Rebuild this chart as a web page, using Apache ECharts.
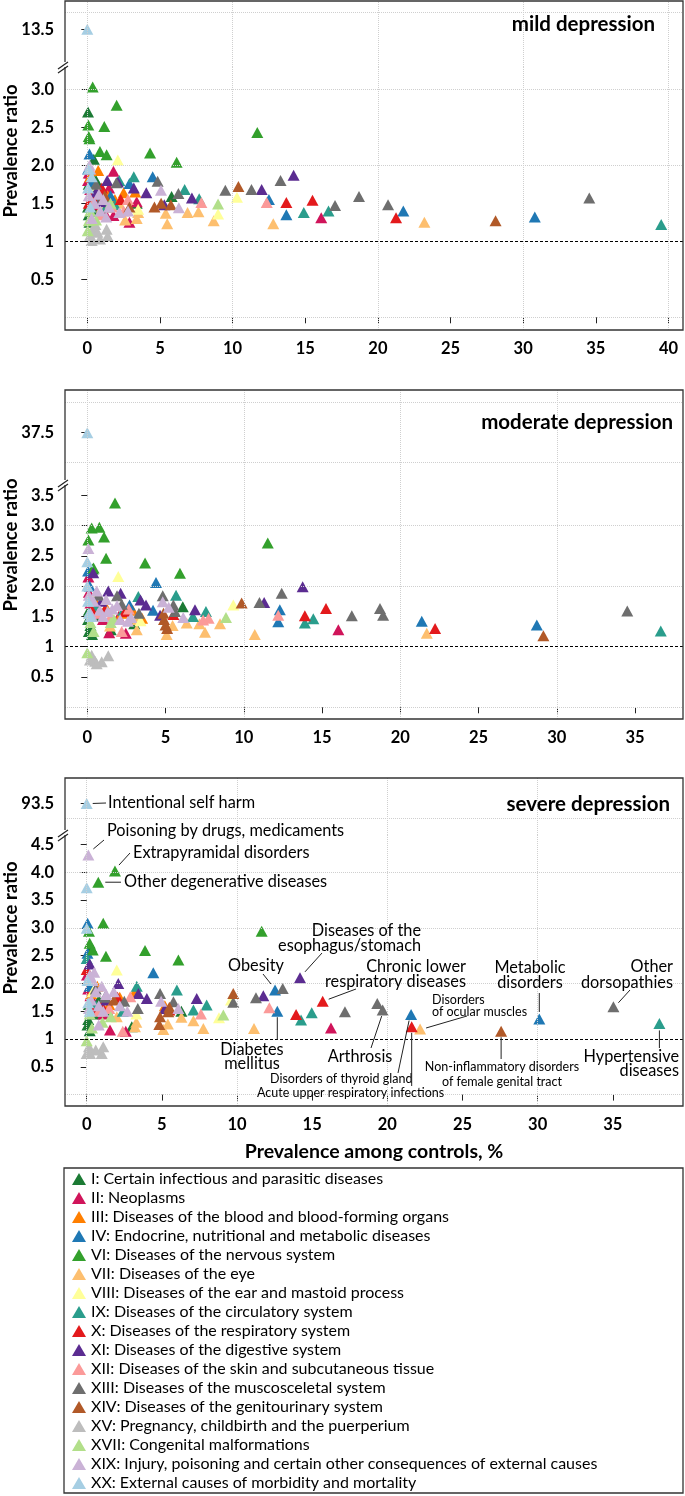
<!DOCTYPE html>
<html>
<head>
<meta charset="utf-8">
<script src="https://cdn.jsdelivr.net/npm/echarts@6.0.0/dist/echarts.min.js"></script>
<style>
  html, body { margin: 0; padding: 0; background: #fff; }
  #chart { width: 685px; height: 1496px; }
</style>
</head>
<body>
<div id="chart"></div>
<script>
// ICD-10 chapters and their colours
const classNames = [
  'I: Certain infectious and parasitic diseases',
  'II: Neoplasms',
  'III: Diseases of the blood and blood-forming organs',
  'IV: Endocrine, nutritional and metabolic diseases',
  'VI: Diseases of the nervous system',
  'VII: Diseases of the eye',
  'VIII: Diseases of the ear and mastoid process',
  'IX: Diseases of the circulatory system',
  'X: Diseases of the respiratory system',
  'XI: Diseases of the digestive system',
  'XII: Diseases of the skin and subcutaneous tissue',
  'XIII: Diseases of the muscosceletal system',
  'XIV: Diseases of the genitourinary system',
  'XV: Pregnancy, childbirth and the puerperium',
  'XVII: Congenital malformations',
  'XIX: Injury, poisoning and certain other consequences of external causes',
  'XX: External causes of morbidity and mortality'
];
const classColors = ['#1b7a34', '#d0145a', '#ff7f00', '#1f78b4', '#33a02c', '#fdbf6f', '#ffff99', '#2a9d8c',
  '#e31a1c', '#5b2c91', '#fb9a99', '#6e6e6e', '#b15928', '#bdbdbd', '#b2df8a', '#cab2d6', '#a6cee3'];

// [prevalence among controls %, prevalence ratio], one list per chapter (same order as classNames)
const mildPoints = [
  [[0.05,2.7],[0.45,2.08],[0.1,1.75],[0.25,1.62],[0.05,1.45],[0.35,1.55],[0.6,1.8],[0.1,1.35],[1.3,1.52],[0.8,1.72],[0.2,1.9],[0.5,1.4],[3.4,1.5],[5.8,1.59],[0.9,1.6],[0.15,1.25]],
  [[0.1,1.9],[0.2,1.68],[0.5,1.55],[1.0,1.62],[1.8,1.92],[1.2,1.38],[1.8,1.34],[2.9,1.25],[3.4,1.52],[16.1,1.31],[0.05,1.8],[0.7,1.48],[1.5,1.7]],
  [[0.75,1.93],[0.3,1.72],[1.4,1.6],[2.5,1.64],[3.3,1.65],[0.2,1.85],[1.9,1.55],[0.6,1.62]],
  [[0.15,2.15],[2.9,1.76],[4.5,1.85],[12.5,1.55],[13.7,1.35],[21.75,1.4],[30.8,1.32],[0.05,1.95],[1.6,1.6],[0.3,1.78]],
  [[0.37,3.03],[2.02,2.79],[0.07,2.53],[0.1,2.38],[0.15,2.35],[1.17,2.51],[0.87,2.18],[1.33,2.14],[4.32,2.16],[6.15,2.04],[11.7,2.43],[0.3,1.65]],
  [[2.6,1.28],[3.4,1.3],[5.5,1.23],[5.4,1.37],[6.9,1.38],[7.65,1.39],[8.7,1.27],[12.8,1.23],[23.2,1.25],[1.0,1.45],[3.5,1.38],[2.2,1.5]],
  [[2.1,2.07],[9.0,1.36],[10.3,1.58],[3.5,1.42],[0.5,1.7],[1.2,1.5]],
  [[3.2,1.85],[6.7,1.68],[7.7,1.56],[14.9,1.38],[16.6,1.4],[39.5,1.22],[1.9,1.48],[0.4,1.6],[2.2,1.8],[1.3,1.45]],
  [[13.7,1.51],[15.5,1.54],[21.25,1.31],[0.3,1.6],[1.0,1.7],[2.3,1.55],[0.1,1.5]],
  [[1.37,1.8],[4.06,1.64],[3.2,1.7],[7.2,1.57],[5.3,1.48],[12.0,1.68],[14.2,1.87],[2.1,1.78],[0.6,1.65],[0.9,1.52]],
  [[2.8,1.55],[7.85,1.51],[12.35,1.51],[1.7,1.45],[0.4,1.5],[2.5,1.4],[0.9,1.35]],
  [[2.0,1.77],[4.84,1.79],[6.27,1.63],[9.5,1.67],[11.3,1.68],[13.3,1.8],[17.05,1.47],[18.7,1.59],[20.7,1.48],[34.55,1.57],[1.0,1.55],[0.6,1.75]],
  [[4.62,1.45],[5.08,1.5],[5.75,1.48],[10.4,1.72],[28.1,1.27],[1.2,1.6],[2.9,1.45]],
  [[0.3,1.01],[0.4,1.14],[0.87,1.03],[1.33,1.16],[1.4,1.07],[0.55,1.22],[0.2,1.08],[0.7,1.12]],
  [[0.03,1.14],[0.1,1.27],[0.6,1.28],[9.0,1.49],[0.2,1.4],[1.6,1.5]],
  [[5.07,1.67],[6.3,1.44],[0.2,1.95],[0.5,1.5],[0.9,1.4],[1.5,1.45],[2.2,1.38],[0.1,1.6],[1.1,1.55],[2.8,1.4],[0.3,1.3],[0.8,1.62],[1.3,1.32],[0.15,2.0]],
  [[0.1,1.95],[0.2,1.45],[0.05,1.7],[0.3,1.85]]
];
const mildOutlier = [[0, 13.5]];

const moderatePoints = [
  [[0.35,2.28],[0.1,1.25],[0.3,1.2],[0.2,1.35],[6.1,1.66],[0.5,1.7],[3.0,1.38],[0.1,1.6],[0.8,1.5],[1.5,1.28],[0.05,1.45]],
  [[0.07,2.15],[1.4,1.23],[2.46,1.22],[16.04,1.28],[0.1,1.9],[0.6,1.55],[1.0,1.45],[0.2,1.72],[2.0,1.5]],
  [[0.4,1.8],[1.2,1.65],[2.2,1.55],[3.5,1.47],[0.8,1.58],[2.9,1.6]],
  [[0.15,2.0],[4.39,2.06],[2.7,1.69],[12.3,1.61],[12.2,1.41],[21.37,1.42],[28.72,1.36],[4.2,1.6],[0.05,2.25]],
  [[1.77,3.37],[0.28,2.96],[0.77,2.97],[0.07,2.76],[1.07,2.81],[1.2,2.46],[3.69,2.38],[5.92,2.21],[11.53,2.71],[0.4,2.3]],
  [[6.35,1.39],[7.16,1.38],[7.52,1.24],[8.48,1.38],[10.7,1.2],[5.07,1.2],[5.45,1.35],[3.16,1.28],[1.45,1.34],[21.69,1.22],[3.2,1.45]],
  [[1.98,2.16],[9.33,1.69],[3.4,1.43],[0.6,1.9]],
  [[3.26,1.83],[5.67,1.85],[6.75,1.5],[7.58,1.58],[13.9,1.39],[14.44,1.46],[36.64,1.26],[2.3,1.6],[0.5,1.65]],
  [[13.9,1.51],[15.25,1.63],[22.22,1.3],[5.5,1.53],[2.4,1.58],[0.3,1.6],[1.1,1.6]],
  [[0.38,2.22],[13.76,1.99],[1.34,1.92],[2.13,1.88],[6.88,1.61],[3.4,1.77],[3.75,1.69],[11.3,1.73],[4.65,1.52],[0.9,1.75]],
  [[7.75,1.47],[7.4,1.44],[12.2,1.52],[2.2,1.25],[2.65,1.62],[1.5,1.5],[0.7,1.55]],
  [[1.9,1.84],[4.82,1.84],[5.5,1.69],[11.0,1.73],[12.42,1.88],[16.9,1.51],[18.7,1.63],[18.9,1.52],[34.5,1.59],[3.3,1.55],[0.7,1.85],[2.2,1.7],[5.6,1.58]],
  [[9.86,1.72],[4.87,1.55],[4.9,1.45],[5.0,1.36],[29.14,1.18],[5.1,1.3]],
  [[0.28,0.86],[0.5,0.76],[0.92,0.75],[1.34,0.85],[0.17,0.78],[0.6,0.72]],
  [[0.0,0.9],[0.2,1.4],[1.5,1.4],[8.86,1.48],[0.4,1.25],[1.7,1.45]],
  [[0.07,2.62],[4.82,1.74],[5.2,1.65],[6.13,1.48],[0.1,1.85],[0.4,1.75],[0.8,1.6],[1.2,1.78],[1.6,1.62],[0.2,1.55],[1.0,1.5],[2.1,1.45],[2.6,1.42],[0.6,1.92],[1.3,1.58],[0.3,1.5],[1.9,1.68],[2.8,1.48]],
  [[0.0,2.4],[0.0,2.0],[0.1,1.55],[0.05,1.75],[0.2,1.5]]
];
const moderateOutlier = [[0, 37.5]];

const severePoints = [
  [[0.3,2.65],[0.05,1.25],[0.1,1.35],[0.2,1.15],[0.5,1.45],[3.0,1.22],[1.4,1.5],[0.15,1.62],[0.8,1.7],[6.3,1.5]],
  [[0.02,2.15],[1.55,1.16],[2.6,1.14],[16.25,1.2],[0.1,1.9],[0.5,1.62],[1.1,1.45],[0.25,1.78]],
  [[0.7,1.95],[2.2,1.75],[0.3,1.82],[1.5,1.62],[3.2,1.85],[5.2,1.6]],
  [[0.06,3.08],[0.05,2.54],[4.43,2.19],[12.53,1.88],[12.68,1.5],[21.58,1.44],[30.11,1.36],[0.2,1.95]],
  [[1.88,4.02],[0.77,3.82],[1.1,3.08],[0.15,2.94],[0.2,2.72],[1.28,2.49],[3.88,2.59],[6.1,2.42],[11.64,2.94],[0.4,2.6]],
  [[6.3,1.39],[7.1,1.33],[7.76,1.19],[11.13,1.19],[5.4,1.27],[5.1,1.17],[3.21,1.22],[3.3,1.3],[22.18,1.18],[2.0,1.4]],
  [[2.0,2.24],[8.8,1.38],[9.6,1.7],[3.3,1.45],[0.4,1.85]],
  [[0.0,2.45],[3.33,1.95],[6.0,1.88],[7.98,1.61],[7.1,1.52],[14.26,1.34],[14.97,1.47],[38.1,1.28],[2.4,1.5],[0.6,1.6]],
  [[0.0,2.25],[13.93,1.44],[15.7,1.68],[21.62,1.22],[2.05,1.75],[0.3,1.55],[1.0,1.6],[5.5,1.52]],
  [[0.2,2.35],[14.19,2.1],[2.1,2.0],[3.44,1.82],[4.0,1.73],[7.32,1.73],[11.75,1.78],[5.2,1.55],[1.3,1.7]],
  [[12.15,1.56],[7.6,1.45],[2.4,1.14],[2.9,1.76],[1.5,1.55],[0.8,1.5]],
  [[4.88,1.82],[5.77,1.67],[9.75,1.66],[11.26,1.74],[13.04,1.91],[17.18,1.49],[19.33,1.64],[19.69,1.52],[35.04,1.58],[3.4,1.55],[1.2,1.75],[0.6,1.9],[2.5,1.68]],
  [[9.75,1.82],[4.88,1.4],[4.83,1.26],[5.43,1.49],[5.5,1.57],[27.57,1.14],[1.8,1.7]],
  [[0.15,0.86],[0.22,0.74],[1.0,0.74],[1.1,0.86],[0.0,0.74],[0.6,0.8]],
  [[0.0,0.97],[0.35,1.2],[1.05,1.3],[9.09,1.43],[0.2,1.45],[1.6,1.4]],
  [[0.11,4.31],[4.95,1.68],[6.1,1.55],[0.2,2.15],[0.4,2.05],[0.6,1.85],[1.0,1.95],[1.3,1.8],[0.3,1.7],[0.8,1.6],[1.8,1.85],[2.2,1.6],[2.7,1.5],[0.15,1.55],[1.1,1.5],[0.5,2.2],[0.8,1.25]],
  [[0.0,3.72],[0.0,2.99],[0.1,1.65],[0.05,2.05],[0.2,1.5]]
];
const severeOutlier = [[0, 93.5]];

// tick labels
const mildXTicks = [0, 5, 10, 15, 20, 25, 30, 35, 40];
const moderateXTicks = [0, 5, 10, 15, 20, 25, 30, 35];
const severeXTicks = [0, 5, 10, 15, 20, 25, 30, 35];
const mildYTicks = [0.5, 1, 1.5, 2, 2.5, 3];
const moderateYTicks = [0.5, 1, 1.5, 2, 2.5, 3, 3.5];
const severeYTicks = [0.5, 1, 1.5, 2, 2.5, 3, 3.5, 4, 4.5];
const mildTopTicks = [13.5];
const moderateTopTicks = [37.5];
const severeTopTicks = [93.5];

// labelled diseases in the severe panel
const severeNotes = [
  { text: ['Intentional self harm'], at: [0, 93.5], top: true, from: [6, 0], to: [106, 803], tx: 108, ty: [803], align: 'left' },
  { text: ['Poisoning by drugs, medicaments'], at: [0.11, 4.31], from: [5, -6], to: [104, 840], tx: 107, ty: [831], align: 'left' },
  { text: ['Extrapyramidal disorders'], at: [1.88, 4.02], from: [4, -6], to: [130, 853], tx: 133, ty: [853], align: 'left' },
  { text: ['Other degenerative diseases'], at: [0.77, 3.82], from: [7, 0], to: [121, null], tx: 124, ty: [882], align: 'left' },
  { text: ['Diseases of the', 'esophagus/stomach'], at: [14.19, 2.1], from: [5, -6], to: [322, 953], tx: 421, ty: [931, 946], align: 'right' },
  { text: ['Obesity'], at: [12.53, 1.88], from: [-4, -6], to: [263, 974], tx: 256, ty: [966], align: 'center' },
  { text: ['Chronic lower', 'respiratory diseases'], at: [15.7, 1.68], from: [6, -2], to: [356, 989], tx: 466, ty: [967, 982], align: 'right' },
  { text: ['Diabetes', 'mellitus'], at: [12.68, 1.5], from: [0, 6], to: [null, 1040], tx: 252, ty: [1050, 1064], align: 'center' },
  { text: ['Arthrosis'], at: [19.69, 1.52], from: [-1, 6], to: [371, 1048], tx: 360, ty: [1057], align: 'center' },
  { text: ['Disorders of thyroid gland'], at: [21.58, 1.44], from: [-2, 6], to: [398, 1073], tx: 270, ty: [1079], align: 'left', small: true },
  { text: ['Acute upper respiratory infections'], at: [21.62, 1.22], from: [0, 6], to: [null, 1086], tx: 257, ty: [1093], align: 'left', small: true },
  { text: ['Disorders', 'of ocular muscles'], at: [22.18, 1.18], from: [6, -1], to: [467, 1016], tx: 432, ty: [1000, 1012], align: 'left', small: true },
  { text: ['Non-inflammatory disorders', 'of female genital tract'], at: [27.57, 1.14], from: [0, 6], to: [null, 1059], tx: 502, ty: [1067, 1082], align: 'center', small: true },
  { text: ['Metabolic', 'disorders'], at: [30.11, 1.36], from: [0, -7], to: [null, 993], tx: 530, ty: [968, 983], align: 'center' },
  { text: ['Other', 'dorsopathies'], at: [35.04, 1.58], from: [5, -4], to: [630, 990], tx: 673, ty: [967, 983], align: 'right' },
  { text: ['Hypertensive', 'diseases'], at: [38.1, 1.28], from: [0, 7], to: [null, 1048], tx: 679, ty: [1057, 1071], align: 'right' }
];

const FONT = 'Lato, "Open Sans", sans-serif';

// page layout of the three panels (box = left, top, right, bottom; brk = y of the axis break)
const panels = [
  { title: 'mild depression', pts: mildPoints, out: mildOutlier, xTicks: mildXTicks, yTicks: mildYTicks, topTicks: mildTopTicks,
    box: [65, 1, 683, 330], brk: 67, x: [-1.535, 41.0], y: [-0.167, 3.293], yTop: [12.364, 14.352],
    xGrid: [0, 10, 20, 30, 40], yGrid: [0, 2, 3], topGrid: [14], titleAt: [655, 24], nameY: 151 },
  { title: 'moderate depression', pts: moderatePoints, out: moderateOutlier, xTicks: moderateXTicks, yTicks: moderateYTicks, topTicks: moderateTopTicks,
    box: [65, 390, 683, 719], brk: 485, x: [-1.425, 38.06], y: [-0.193, 3.668], yTop: [36.628, 38.212],
    xGrid: [0, 10, 20, 30], yGrid: [0, 2, 3], topGrid: [37, 38], titleAt: [673, 422], nameY: 545 },
  { title: 'severe depression', pts: severePoints, out: severeOutlier, xTicks: severeXTicks, yTicks: severeYTicks, topTicks: severeTopTicks,
    box: [65, 778, 683, 1106], brk: 835, x: [-1.444, 39.67], y: [-0.205, 4.669], yTop: [92.399, 94.389],
    xGrid: [0, 10, 20, 30], yGrid: [0, 2, 3, 4], topGrid: [93], titleAt: [670, 804], nameY: 928 }
];

const labelStyle = { color: '#000', fontFamily: FONT, fontWeight: 'bold', fontSize: 16.5 };
const tickStyle = { show: true, length: 6, lineStyle: { color: '#222', width: 1 } };
const dotted = { color: '#cfcfcf', type: 'dotted', width: 1 };

const chart = echarts.init(document.getElementById('chart'));
const grids = [], xAxes = [], yAxes = [], series = [];

panels.forEach((p, i) => {
  const [L, T, R, B] = p.box;
  const gTop = 2 * i, gMain = 2 * i + 1;
  grids.push({ left: L, top: T, width: R - L, height: p.brk - T, outerBoundsMode: 'none' });
  grids.push({ left: L, top: p.brk, width: R - L, height: B - p.brk, outerBoundsMode: 'none' });

  xAxes.push({ gridIndex: gTop, type: 'value', min: p.x[0], max: p.x[1], show: false });
  xAxes.push({
    gridIndex: gMain, type: 'value', min: p.x[0], max: p.x[1],
    axisLine: { show: false }, splitLine: { show: false },
    axisTick: Object.assign({ customValues: p.xTicks }, tickStyle),
    axisLabel: Object.assign({ customValues: p.xTicks, margin: 10 }, labelStyle),
    name: i === 2 ? 'Prevalence among controls, %' : '',
    nameLocation: 'middle', nameGap: 36,
    nameTextStyle: { color: '#000', fontFamily: FONT, fontWeight: 'bold', fontSize: 19.5 }
  });
  yAxes.push({
    gridIndex: gTop, type: 'value', min: p.yTop[0], max: p.yTop[1],
    axisLine: { show: false }, splitLine: { show: false },
    axisTick: Object.assign({ customValues: p.topTicks }, tickStyle),
    axisLabel: Object.assign({ customValues: p.topTicks, margin: 11, formatter: v => v.toFixed(1) }, labelStyle)
  });
  yAxes.push({
    gridIndex: gMain, type: 'value', min: p.y[0], max: p.y[1],
    axisLine: { show: false }, splitLine: { show: false },
    axisTick: Object.assign({ customValues: p.yTicks }, tickStyle),
    axisLabel: Object.assign({ customValues: p.yTicks, margin: 11, formatter: v => (v === 1 ? '1' : v.toFixed(1)) }, labelStyle)
  });

  // dotted grid lines + dashed reference line at ratio 1
  series.push({
    type: 'scatter', data: [], xAxisIndex: gTop, yAxisIndex: gTop, silent: true, z: 1,
    markLine: { silent: true, symbol: 'none', animation: false, label: { show: false }, lineStyle: dotted,
      data: p.xGrid.map(v => ({ xAxis: v })).concat(p.topGrid.map(v => ({ yAxis: v }))) }
  });
  series.push({
    type: 'scatter', data: [], xAxisIndex: gMain, yAxisIndex: gMain, silent: true, z: 1,
    markLine: { silent: true, symbol: 'none', animation: false, label: { show: false }, lineStyle: dotted,
      data: p.xGrid.map(v => ({ xAxis: v })).concat(p.yGrid.map(v => ({ yAxis: v })))
        .concat([{ yAxis: 1, lineStyle: { color: '#000', type: [3, 2], width: 1.2 } }]) }
  });

  p.pts.forEach((d, c) => {
    series.push({
      type: 'scatter', name: classNames[c], xAxisIndex: gMain, yAxisIndex: gMain, data: d,
      symbol: 'triangle', symbolSize: [12, 11], itemStyle: { color: classColors[c], opacity: 1 }, z: 3
    });
  });
  series.push({
    type: 'scatter', name: classNames[16], xAxisIndex: gTop, yAxisIndex: gTop, data: p.out,
    symbol: 'triangle', symbolSize: [12, 11], itemStyle: { color: classColors[16], opacity: 1 }, z: 3
  });
});

chart.setOption({
  animation: false,
  textStyle: { fontFamily: FONT },
  grid: grids,
  xAxis: xAxes,
  yAxis: yAxes,
  legend: {
    data: classNames, orient: 'vertical', left: 72, top: 1171, bottom: 0, padding: 0,
    icon: 'triangle', itemWidth: 14, itemHeight: 12, itemGap: 3, selectedMode: false,
    textStyle: { color: '#000', fontFamily: FONT, fontSize: 16 }
  },
  series: series
});

// frames, axis breaks, titles and annotations
const g = [];
panels.forEach((p, i) => {
  const [L, T, R, B] = p.box;
  g.push({ type: 'rect', z: 10, silent: true, shape: { x: L, y: T, width: R - L, height: B - T },
    style: { fill: 'none', stroke: '#333', lineWidth: 1.3 } });
  g.push({ type: 'rect', z: 11, silent: true, shape: { x: L - 2, y: p.brk - 5, width: 4, height: 5 }, style: { fill: '#fff' } });
  g.push({ type: 'line', z: 12, silent: true, shape: { x1: L - 7, y1: p.brk + 2, x2: L + 3, y2: p.brk - 5 }, style: { stroke: '#222', lineWidth: 1.2 } });
  g.push({ type: 'line', z: 12, silent: true, shape: { x1: L - 7, y1: p.brk + 6, x2: L + 3, y2: p.brk - 1 }, style: { stroke: '#222', lineWidth: 1.2 } });
  g.push({ type: 'text', z: 12, silent: true, x: 11, y: p.nameY, rotation: Math.PI / 2,
    style: { text: 'Prevalence ratio', x: 0, y: 0, fill: '#000', font: 'bold 18.5px ' + FONT, textAlign: 'center', textVerticalAlign: 'middle' } });
  g.push({ type: 'text', z: 12, silent: true,
    style: { text: p.title, x: p.titleAt[0], y: p.titleAt[1], fill: '#000', font: 'bold 20.5px ' + FONT, textAlign: 'right', textVerticalAlign: 'middle' } });
});

g.push({ type: 'rect', z: 10, silent: true, shape: { x: 64, y: 1168, width: 619, height: 325 },
  style: { fill: 'none', stroke: '#333', lineWidth: 1.3 } });

severeNotes.forEach(n => {
  const pt = chart.convertToPixel({ gridIndex: n.top ? 4 : 5 }, n.at);
  const x1 = pt[0] + n.from[0], y1 = pt[1] + n.from[1];
  const x2 = n.to[0] === null ? x1 : n.to[0];
  const y2 = n.to[1] === null ? y1 : n.to[1];
  g.push({ type: 'line', z: 12, silent: true, shape: { x1: x1, y1: y1, x2: x2, y2: y2 }, style: { stroke: '#222', lineWidth: 1 } });
  n.text.forEach((t, k) => {
    g.push({ type: 'text', z: 12, silent: true,
      style: { text: t, x: n.tx, y: n.ty[k], fill: '#000', font: (n.small ? '12.5px ' : '16.3px ') + FONT,
        textAlign: n.align, textVerticalAlign: 'middle' } });
  });
});

chart.setOption({ graphic: { elements: g } });
</script>
</body>
</html>
